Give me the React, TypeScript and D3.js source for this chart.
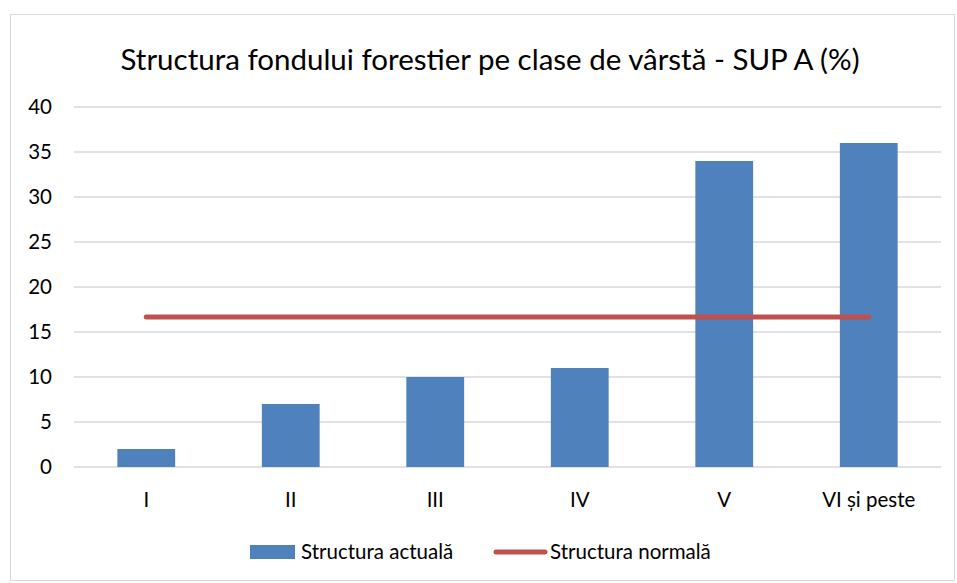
import * as d3 from "d3";
import React from "react";

const categories = ["I", "II", "III", "IV", "V", "VI și peste"];
const actual = [2, 7, 10, 11, 34, 36];
const normal = [16.67, 16.67, 16.67, 16.67, 16.67, 16.67];
const yTicks = [0, 5, 10, 15, 20, 25, 30, 35, 40];

const W = 957;
const H = 583;
const font = "Lato, 'Open Sans', sans-serif";

const App = () => {
  const x = d3.scaleBand().domain(categories).range([74, 941]).paddingInner(0.6).paddingOuter(0.3);
  const xc = d3.scalePoint().domain(categories).range([74, 941]).padding(0.5);
  const y = d3.scaleLinear().domain([0, 40]).range([467, 107]);

  const line = d3
    .line<number>()
    .x((_, i) => xc(categories[i]) as number)
    .y((d) => y(d));

  return (
    <svg width={W} height={H} style={{ position: "absolute", left: 0, top: 0 }}>
      <rect x={0} y={0} width={W} height={H} fill="#fff" />
      <rect x={10.5} y={14.5} width={944} height={566} fill="#fff" stroke="#d9d9d9" />
      <text x={490} y={70} textAnchor="middle" fontFamily={font} fontSize={29.5} fill="#000">
        Structura fondului forestier pe clase de vârstă - SUP A (%)
      </text>
      {yTicks.map((t) => (
        <g key={t}>
          <line x1={74} x2={941} y1={y(t)} y2={y(t)} stroke="#d9d9d9" strokeWidth={1.5} />
          <text x={52} y={y(t) + 7} textAnchor="end" fontFamily={font} fontSize={20.5} fill="#000">
            {t}
          </text>
        </g>
      ))}
      {categories.map((c, i) => (
        <rect
          key={c}
          x={x(c)}
          y={y(actual[i])}
          width={x.bandwidth()}
          height={y(0) - y(actual[i])}
          fill="#4f81bd"
        />
      ))}
      <path d={line(normal) || ""} fill="none" stroke="#c0504d" strokeWidth={5} strokeLinecap="round" />
      {categories.map((c) => (
        <text key={c} x={xc(c)} y={507} textAnchor="middle" fontFamily={font} fontSize={20.5} fill="#000">
          {c}
        </text>
      ))}
      <rect x={250} y={545} width={45} height={14} fill="#4f81bd" />
      <text x={301} y={559} fontFamily={font} fontSize={20.5} fill="#000">
        Structura actuală
      </text>
      <line x1={496} x2={545} y1={552} y2={552} stroke="#c0504d" strokeWidth={5} strokeLinecap="round" />
      <text x={550} y={559} fontFamily={font} fontSize={20.5} fill="#000">
        Structura normală
      </text>
    </svg>
  );
};

export default App;
